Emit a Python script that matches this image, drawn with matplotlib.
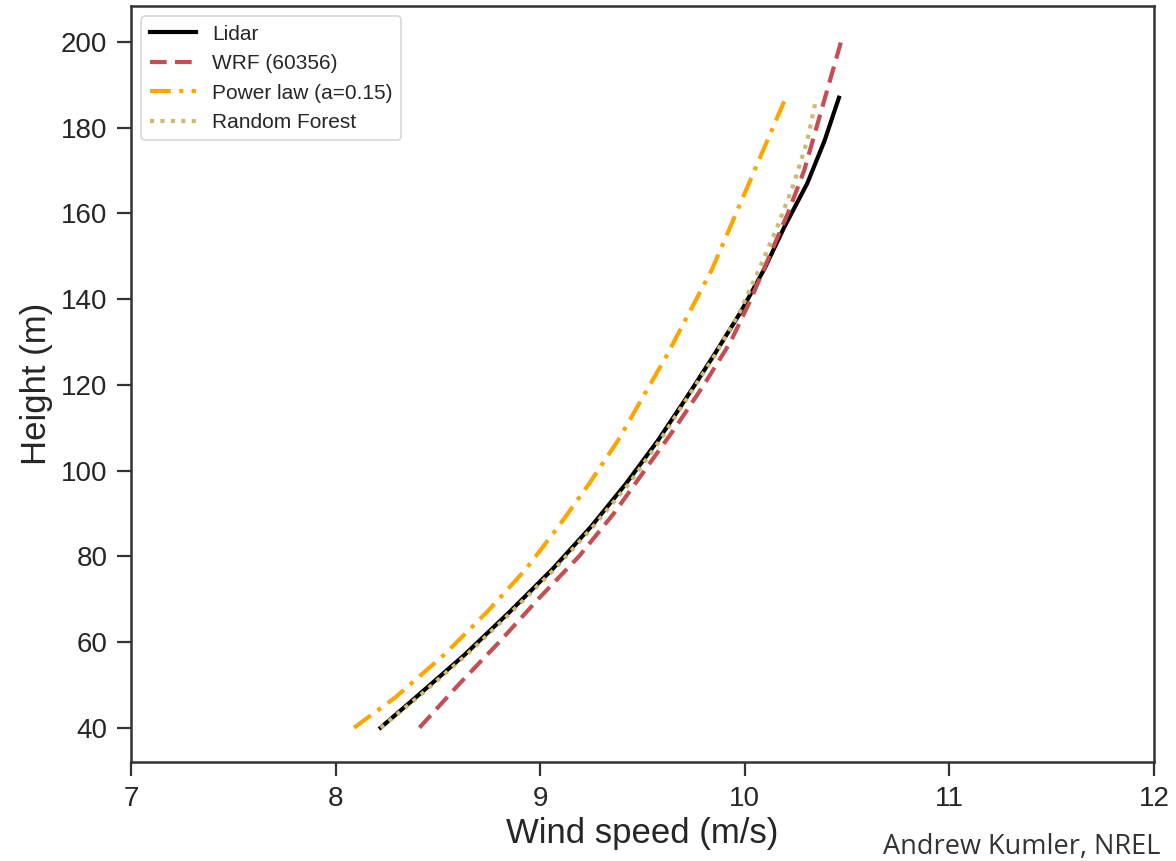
import numpy as np
import matplotlib.pyplot as plt

# heights (m) and wind speeds (m/s)
heights = [40, 47, 57, 67, 77, 87, 97, 107, 117, 127, 137, 147, 157, 167, 177, 187]
lidar = [8.22, 8.39, 8.63, 8.85, 9.06, 9.25, 9.42, 9.575, 9.715, 9.85, 9.98,
         10.095, 10.195, 10.305, 10.39, 10.46]
power_law = [8.09, 8.29, 8.53, 8.74, 8.93, 9.09, 9.24, 9.38, 9.50, 9.62, 9.73,
             9.84, 9.93, 10.02, 10.11, 10.20]
random_forest = [8.22, 8.40, 8.64, 8.86, 9.07, 9.26, 9.435, 9.585, 9.72, 9.855,
                 9.975, 10.07, 10.16, 10.24, 10.305, 10.35]

wrf_heights = [40, 50, 60, 70, 80, 90, 100, 110, 120, 130, 140, 150, 160, 170,
               180, 190, 200]
wrf = [8.41, 8.60, 8.80, 8.99, 9.19, 9.36, 9.51, 9.66, 9.80, 9.93, 10.03, 10.12,
       10.21, 10.29, 10.35, 10.41, 10.47]

plt.rcParams['font.family'] = ['Liberation Sans', 'DejaVu Sans']

fig = plt.figure(figsize=(11.76, 8.61), dpi=100)
ax = fig.add_axes([0.1114, 0.115, 0.8699, 0.878])

ax.plot(lidar, heights, color='black', lw=3, label='Lidar')
ax.plot(wrf, wrf_heights, color='#C44E52', lw=3, ls=(0, (4, 2)), label='WRF (60356)')
ax.plot(power_law, heights, color='#FFA500', lw=3, ls=(0, (5, 2, 1, 2)),
        label='Power law (a=0.15)')
ax.plot(random_forest, heights, color='#CCB974', lw=3, ls=(0, (1, 1.5)),
        label='Random Forest')

ax.set_xlim(7, 12)
ax.set_ylim(32, 208.4)
ax.set_xticks([7, 8, 9, 10, 11, 12])
ax.set_yticks(np.arange(40, 201, 20))

for s in ax.spines.values():
    s.set_color('#333333')
    s.set_linewidth(1.8)
ax.tick_params(labelsize=20, length=10, width=1.6, color='#333333',
               labelcolor='#262626', pad=7)

ax.set_xlabel('Wind speed (m/s)', fontsize=25, color='#262626', labelpad=4)
ax.set_ylabel('Height (m)', fontsize=25, color='#262626', labelpad=6)

leg = ax.legend(loc='upper left', fontsize=15, frameon=True, fancybox=True,
                edgecolor='#cccccc', borderaxespad=0.5, handlelength=2.2)
leg.get_frame().set_linewidth(1.2)
for t in leg.get_texts():
    t.set_color('#262626')

fig.text(0.987, 0.008, 'Andrew Kumler, NREL', ha='right', va='baseline',
         fontsize=19.5, color='#333333', family=['Open Sans', 'DejaVu Sans'])

fig.savefig('out.png', dpi=100)
